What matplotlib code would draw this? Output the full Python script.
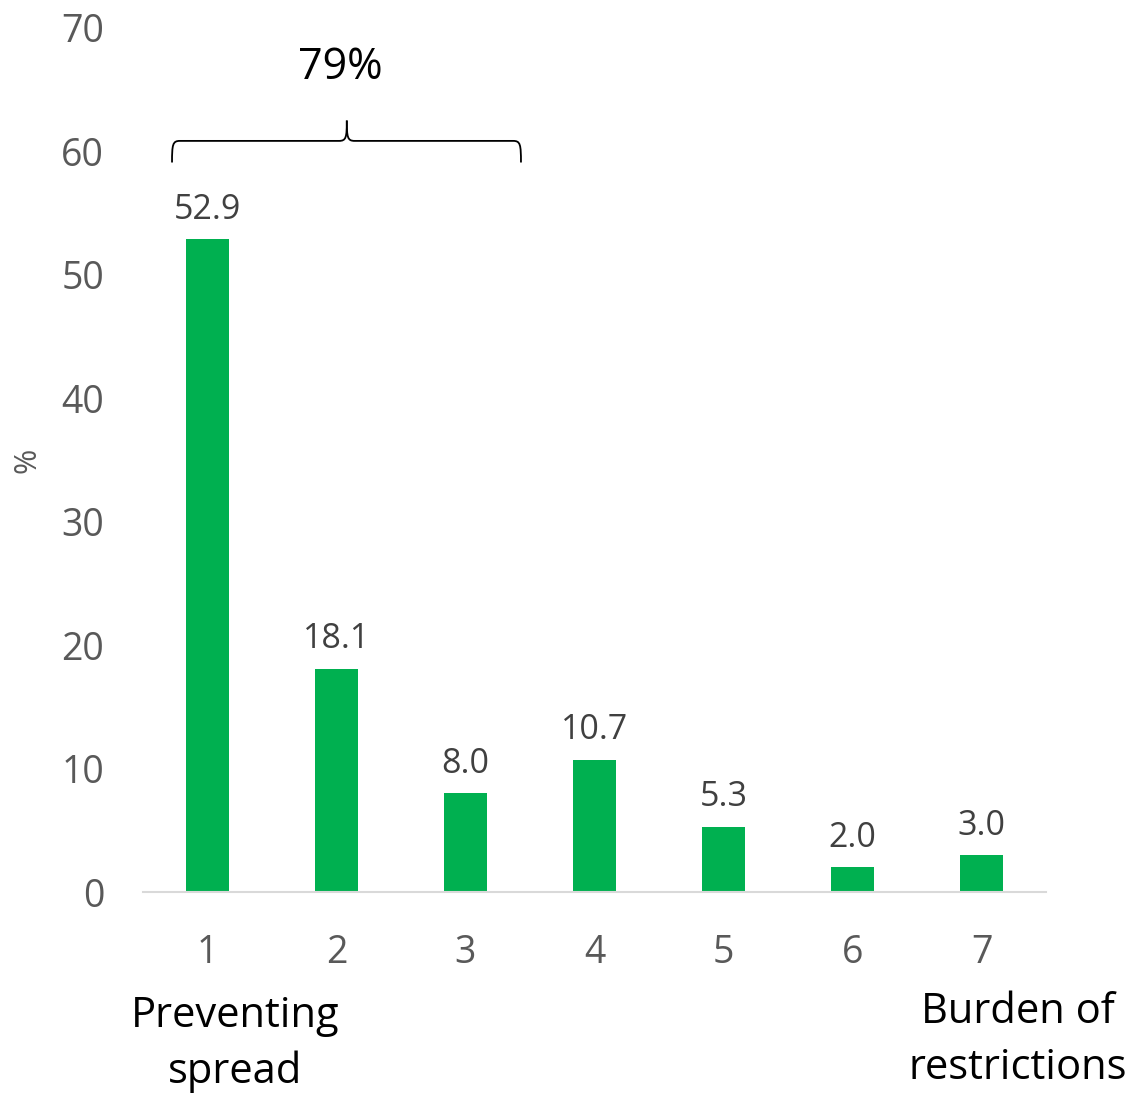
import matplotlib
matplotlib.use("Agg")
import matplotlib.pyplot as plt
from matplotlib.path import Path
from matplotlib.patches import PathPatch

plt.rcParams['font.family'] = ['Open Sans', 'DejaVu Sans']

ranks = [1, 2, 3, 4, 5, 6, 7]
shares = [52.9, 18.1, 8.0, 10.7, 5.3, 2.0, 3.0]
tick_labels = ['1', '2', '3', '4', '5', '6', '7']
y_ticks = [0, 10, 20, 30, 40, 50, 60, 70]
bracket_text = '79%'
left_end = 'Preventing\nspread'
right_end = 'Burden of\nrestrictions'

GREEN = '#00B050'
GREY = '#595959'

fig = plt.figure(figsize=(11.34, 10.96), dpi=100)
ax = fig.add_axes([0.1261, 0.1861, 0.7963, 0.7884])

ax.bar(ranks, shares, width=0.33, color=GREEN, zorder=2)
for x, v in zip(ranks, shares):
    ax.annotate(f'{v:.1f}', (x, v), xytext=(0, 9), textcoords='offset points',
                ha='center', va='bottom', fontsize=24.5, color='#404040')

ax.set_xlim(0.5, 7.5)
ax.set_ylim(0, 70)
ax.set_xticks(ranks)
ax.set_xticklabels(tick_labels)
ax.set_yticks(y_ticks)
ax.tick_params(axis='x', length=0, pad=30, labelsize=27, labelcolor=GREY)
ax.tick_params(axis='y', length=0, pad=28, labelsize=27, labelcolor=GREY)
for s in ['top', 'right', 'left']:
    ax.spines[s].set_visible(False)
ax.spines['bottom'].set_color('#D9D9D9')
ax.spines['bottom'].set_linewidth(1.5)

ax.set_ylabel('%', fontsize=22, color=GREY)
ax.yaxis.set_label_coords(-0.111, 0.5)

# curly brace spanning the first three bars, drawn as two mirrored halves
x0, x1, xm = 0.725, 3.43, 2.08
yb, yh, yp = 59.1, 60.85, 62.5
dx = 0.06
left = Path([(x0, yb), (x0, yh - 0.3), (x0 + 0.005, yh), (x0 + dx, yh),
             (xm - dx, yh), (xm - 0.005, yh), (xm, yh + 0.3), (xm, yp)],
            [Path.MOVETO, Path.CURVE4, Path.CURVE4, Path.CURVE4,
             Path.LINETO, Path.CURVE4, Path.CURVE4, Path.CURVE4])
right = Path([(x1, yb), (x1, yh - 0.3), (x1 - 0.005, yh), (x1 - dx, yh),
              (xm + dx, yh), (xm + 0.005, yh), (xm, yh + 0.3), (xm, yp)],
             [Path.MOVETO, Path.CURVE4, Path.CURVE4, Path.CURVE4,
              Path.LINETO, Path.CURVE4, Path.CURVE4, Path.CURVE4])
for p in (left, right):
    ax.add_patch(PathPatch(p, fill=False, lw=1.3, color='black', clip_on=False))
ax.text(xm - 0.05, 66.8, bracket_text, ha='center', va='center', fontsize=31, color='black')

fig.text(235 / 1134, 1 - 1044 / 1096, left_end, ha='center', va='center',
         fontsize=30, color='black', linespacing=1.43)
fig.text(1018 / 1134, 1 - 1040 / 1096, right_end, ha='center', va='center',
         fontsize=30, color='black', linespacing=1.43)

fig.savefig('out.png', dpi=100)
